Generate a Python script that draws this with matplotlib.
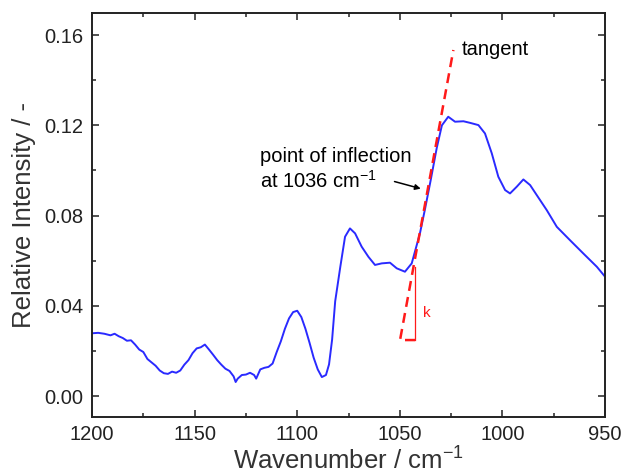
import numpy as np
import matplotlib
matplotlib.use("Agg")
import matplotlib.pyplot as plt
from matplotlib.ticker import MultipleLocator

plt.rcParams['font.family'] = ['Liberation Sans', 'DejaVu Sans']
plt.rcParams['mathtext.default'] = 'regular'

# spectrum (wavenumber in cm-1, relative intensity)
wavenumber = [1200, 1197, 1194, 1191, 1189, 1187, 1185, 1183, 1181, 1179,
              1177, 1175, 1173, 1171, 1169, 1167, 1165, 1163, 1161, 1159,
              1157, 1155, 1153, 1151, 1149, 1147, 1145, 1143, 1141, 1139,
              1137, 1135, 1133, 1131, 1130, 1129, 1127, 1125, 1123, 1121,
              1120, 1118, 1116, 1114, 1112, 1110, 1108, 1106, 1104, 1102,
              1100, 1098, 1096, 1094, 1092, 1090, 1088, 1086, 1084.5, 1083,
              1081.5, 1079, 1076.7, 1074.3, 1071.8, 1068.6, 1065.3, 1062.1, 1058.8, 1054.8,
              1051.5, 1047.5, 1044.2, 1040.2, 1037.7, 1035, 1032, 1029.5, 1026.4, 1023.1,
              1019, 1015.8, 1011.7, 1008.5, 1005.2, 1002, 998.7, 996.3, 993, 989.8,
              986.5, 983.3, 978.4, 973.5, 967.1, 960.6, 954, 950]
intensity = [0.0278, 0.0280, 0.0276, 0.0269, 0.0276, 0.0265, 0.0257, 0.0245, 0.0247, 0.0228,
             0.0206, 0.0195, 0.0164, 0.0149, 0.0134, 0.0113, 0.0101, 0.0098, 0.0108, 0.0103,
             0.0113, 0.0139, 0.0159, 0.0190, 0.0211, 0.0216, 0.0228, 0.0206, 0.0183, 0.0159,
             0.0139, 0.0121, 0.0111, 0.0087, 0.0062, 0.0077, 0.0093, 0.0095, 0.0103, 0.0093,
             0.0077, 0.0118, 0.0125, 0.0129, 0.0144, 0.0195, 0.0242, 0.0298, 0.0344, 0.0372,
             0.0378, 0.0350, 0.0298, 0.0236, 0.0170, 0.0118, 0.0084, 0.0093, 0.0140, 0.0250,
             0.0420, 0.0573, 0.0706, 0.0743, 0.0721, 0.0662, 0.0617, 0.0581, 0.0588, 0.0591,
             0.0566, 0.0551, 0.0588, 0.0721, 0.0830, 0.0955, 0.1100, 0.1200, 0.1238, 0.1216,
             0.1218, 0.1211, 0.1201, 0.1164, 0.1076, 0.0972, 0.0913, 0.0898, 0.0928, 0.0960,
             0.0935, 0.0891, 0.0824, 0.0750, 0.0691, 0.0632, 0.0573, 0.0529]

# tangent construction
tangent_x = [1042.6, 1049.9, 1023.9]
tangent_y = [0.0248, 0.0248, 0.1534]
k_x = [1042.6, 1042.6]
k_y = [0.0248, 0.0570]
arrow_head = (1038.5, 0.0916)
arrow_tail = (1053.9, 0.0954)

fig = plt.figure(figsize=(6.26, 4.74), dpi=100)
ax = fig.add_axes([0.147, 0.1203, 0.8195, 0.8523])

ax.plot(wavenumber, intensity, color='#2a2aff', lw=1.4)
ax.plot(tangent_x, tangent_y, color='#ff1a1a', lw=1.8, ls=(0, (4, 2.5)))
ax.plot(k_x, k_y, color='#ff1a1a', lw=0.9)

ax.text(1038.7, 0.0368, 'k', color='#ff1a1a', fontsize=11, ha='left', va='center')
ax.text(1019.7, 0.1534, 'tangent', fontsize=14.5, ha='left', va='center')
ax.text(1118.1, 0.1006, 'point of inflection\nat 1036 cm$^{-1}$', fontsize=14.5,
        ha='left', va='center', linespacing=1.2)
ax.annotate('', xy=arrow_head, xytext=arrow_tail,
            arrowprops=dict(arrowstyle='-|>', color='black', lw=1.1,
                            mutation_scale=8))

ax.set_xlim(1200, 950)
ax.set_ylim(-0.0093, 0.1698)
ax.xaxis.set_major_locator(MultipleLocator(50))
ax.xaxis.set_minor_locator(MultipleLocator(25))
ax.yaxis.set_major_locator(MultipleLocator(0.04))
ax.yaxis.set_minor_locator(MultipleLocator(0.02))
ax.yaxis.set_major_formatter(matplotlib.ticker.FormatStrFormatter('%.2f'))

ax.tick_params(which='both', direction='in', top=True, right=True,
               labelsize=14.5, width=1.1, colors='#222222')
ax.tick_params(which='major', length=5, pad=6)
ax.tick_params(which='minor', length=3)
for s in ax.spines.values():
    s.set_linewidth(1.4)
    s.set_color('#222222')

ax.set_xlabel('Wavenumber / cm$^{-1}$', fontsize=18.5, labelpad=2, color='#333333')
ax.set_ylabel('Relative Intensity / -', fontsize=18.5, labelpad=6, color='#333333')

fig.savefig('out.png', dpi=100)
